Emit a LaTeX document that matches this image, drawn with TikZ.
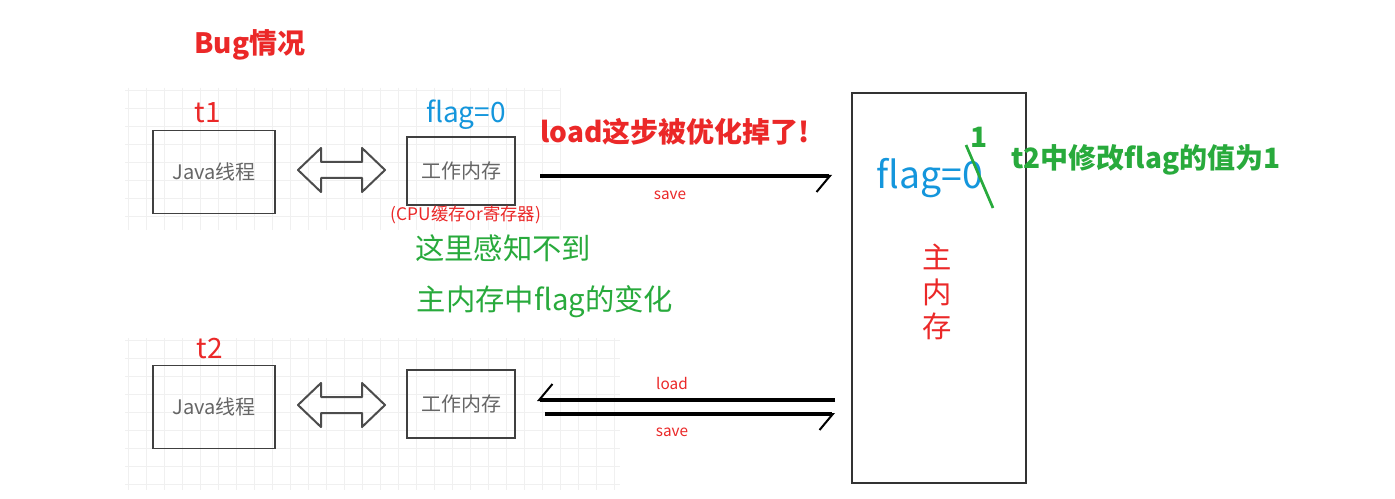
\documentclass[tikz,border=0pt]{standalone}
\usepackage{fontspec}
\setmainfont{Noto Sans CJK SC}
\usetikzlibrary{arrows.meta}
\definecolor{myred}{RGB}{235,40,40}
\definecolor{myblue}{RGB}{20,150,220}
\definecolor{mygreen}{RGB}{40,170,60}
\tikzset{
  box/.style={draw=black!75,line width=1pt,minimum width=91.5pt,minimum height=62pt,font=\fontsize{15}{15}\selectfont,text=black!60},
  wbox/.style={box,minimum width=81pt,minimum height=51pt},
  dbl/.style={draw=black!70,line width=1.5pt,line join=round},
  harp/.style={line width=2.6pt,-{Straight Barb[harpoon,swap,length=10pt,width=24pt,line width=1.5pt]}},
  lab/.style={text=myred,font=\fontsize{11.5}{12}\selectfont},
  big/.style={font=\fontsize{21}{21}\selectfont},
}
\newcommand{\hollowdbl}[1]{\draw[dbl] (298,#1) -- (321,#1-22) -- (321,#1-8) -- (362,#1-8) -- (362,#1-22) -- (385,#1) -- (362,#1+22) -- (362,#1+8) -- (321,#1+8) -- (321,#1+22) -- cycle;}
\begin{document}
\begin{tikzpicture}[x=0.75pt,y=-0.75pt]
\useasboundingbox (0,0) rectangle (1395,499);
\fill[white] (0,0) rectangle (1395,499);
\foreach \xx in {128,146,...,560} \draw[black!6] (\xx,88) -- (\xx,230);
\foreach \yy in {90,108,...,230} \draw[black!6] (125,\yy) -- (560,\yy);
\foreach \xx in {128,146,...,620} \draw[black!6] (\xx,338) -- (\xx,490);
\foreach \yy in {340,358,...,490} \draw[black!6] (125,\yy) -- (620,\yy);

\node[text=myred,font=\fontsize{21}{21}\selectfont\bfseries] (bug) at (250,45) {Bug情况};

\node[box] (j1) at (214,172) {Java线程};
\node[wbox] (w1) at (461,171) {工作内存};
\node[text=myred,big] (t1) at (208,113) {t1};
\node[text=myblue,big] (f1) at (466,115) {flag=0};
\node[text=myred,font=\fontsize{13}{13}\selectfont] (cpu) at (466,215) {(CPU缓存or寄存器)};
\hollowdbl{170}

\node[draw=black!80,line width=1pt,minimum width=130.5pt,minimum height=292.5pt] (mm) at (939,288) {};
\node[text=myred,font=\fontsize{22}{22}\selectfont,align=center] (zhu) at (937,292) {主\\[4pt]内\\[4pt]存};
\node[text=myblue,font=\fontsize{28}{28}\selectfont] (f2) at (930,178) {flag=0};
\draw[mygreen,line width=2pt] (966,145) -- (993,208);
\node[text=mygreen,font=\fontsize{21}{21}\selectfont\bfseries] (one) at (979,137) {1};
\node[text=mygreen,font=\fontsize{21}{21}\selectfont\bfseries] (t2m) at (1146,160) {t2中修改flag的值为1};

\node[text=myred,font=\fontsize{21}{21}\selectfont\bfseries] (opt) at (675,132) {load这步被优化掉了!};
\coordinate (s1a) at (540,176);
\coordinate (s1b) at (832,176);
\draw[harp] (s1a) -- (s1b);
\node[lab] (sv1) at (670,195) {save};

\node[text=mygreen,font=\fontsize{22}{22}\selectfont] (g1) at (503,248) {这里感知不到};
\node[text=mygreen,font=\fontsize{22}{22}\selectfont] (g2) at (545,302) {主内存中flag的变化};

\node[box] (j2) at (214,407) {Java线程};
\node[wbox] (w2) at (461,404) {工作内存};
\node[text=myred,big] (t2) at (210,349) {t2};
\hollowdbl{405}

\coordinate (la) at (835,400);
\coordinate (lb) at (537,400);
\draw[harp] (la) -- (lb);
\coordinate (sa) at (545,414);
\coordinate (sb) at (835,414);
\draw[harp] (sa) -- (sb);
\node[lab] (ld) at (672,383) {load};
\node[lab] (sv2) at (672,432) {save};
\end{tikzpicture}
\end{document}
